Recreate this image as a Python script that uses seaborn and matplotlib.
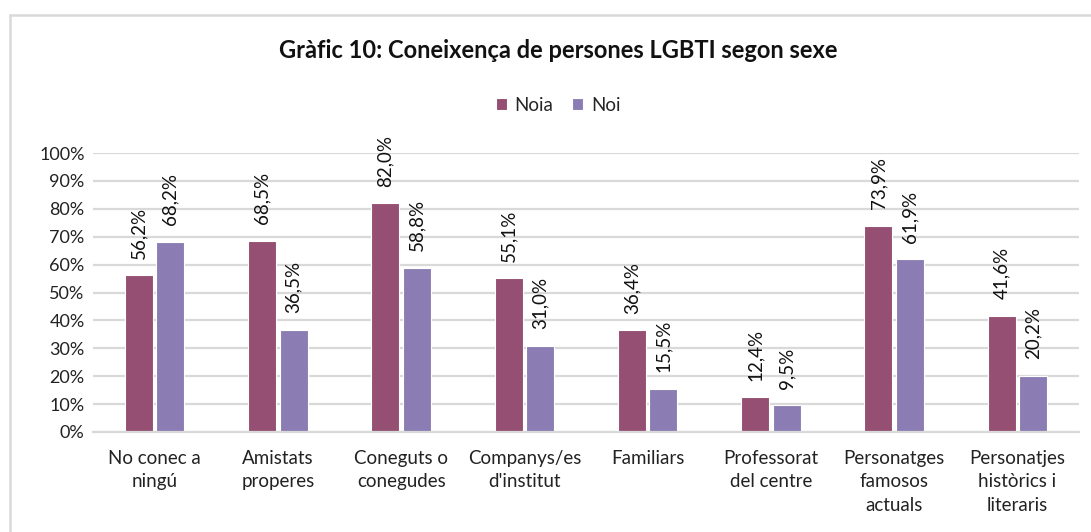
import pandas as pd
import numpy as np
import seaborn as sns
import matplotlib.pyplot as plt
from matplotlib.lines import Line2D

# dades del gràfic
categories = ['No conec a\nningú', 'Amistats\nproperes', 'Coneguts o\nconegudes', "Companys/es\nd'institut",
              'Familiars', 'Professorat\ndel centre', 'Personatges\nfamosos\nactuals', 'Personatjes\nhistòrics i\nliteraris']
noia = [56.2, 68.5, 82.0, 55.1, 36.4, 12.4, 73.9, 41.6]
noi = [68.2, 36.5, 58.8, 31.0, 15.5, 9.5, 61.9, 20.2]
grups = ['Noia', 'Noi']
colors = {'Noia': '#954F72', 'Noi': '#8B7DB3'}

df = pd.DataFrame({
    'categoria': categories * 2,
    'sexe': ['Noia'] * len(categories) + ['Noi'] * len(categories),
    'valor': noia + noi,
})

sns.set_style('white')
plt.rcParams['font.family'] = ['Lato', 'DejaVu Sans']

fig = plt.figure(figsize=(10.91, 5.32), dpi=100)
ax = fig.add_axes([93 / 1091, 100 / 532, 986 / 1091, 279 / 532])

sns.barplot(data=df, x='categoria', y='valor', hue='sexe', hue_order=grups, palette=colors,
            saturation=1, width=0.51, gap=0.11, edgecolor='white', linewidth=0.8, ax=ax, legend=True)

for cont in ax.containers:
    ax.bar_label(cont, labels=[f'{v:.1f}%'.replace('.', ',') for v in cont.datavalues],
                 rotation=90, padding=12, fontsize=13.5, color='#111111')

ax.set_ylim(0, 100)
ax.set_yticks(np.arange(0, 101, 10))
ax.set_yticklabels([f'{t}%' for t in range(0, 101, 10)], fontsize=13, color='#222222')
ax.tick_params(axis='x', labelsize=13.5, labelcolor='#222222', length=0, pad=13)
for lab in ax.get_xticklabels():
    lab.set_linespacing(1.45)
ax.tick_params(axis='y', length=0, pad=6)
ax.set_xlabel('')
ax.set_ylabel('')
ax.grid(axis='y', color='#D9D9D9', linewidth=1.6)
ax.set_axisbelow(True)
for s in ['top', 'right', 'left']:
    ax.spines[s].set_visible(False)
ax.spines['bottom'].set_color('#D9D9D9')
ax.spines['bottom'].set_linewidth(1.6)

leg = ax.legend(loc='center', bbox_to_anchor=(558 / 1091, 1 - 105 / 532), bbox_transform=fig.transFigure,
                ncol=2, frameon=False, fontsize=13.5, handlelength=0.6, handleheight=0.6,
                handletextpad=0.4, columnspacing=1.0)

fig.text(558 / 1091, 1 - 50 / 532, 'Gràfic 10: Coneixença de persones LGBTI segon sexe',
         ha='center', va='center', fontsize=17, fontweight='bold', color='#111111')

# marc del gràfic
fig.add_artist(Line2D([10 / 1091, 1.0], [1 - 15 / 532, 1 - 15 / 532], color='#D9D9D9', linewidth=1.8))
fig.add_artist(Line2D([10 / 1091, 10 / 1091], [0.0, 1 - 15 / 532], color='#D9D9D9', linewidth=1.8))

fig.savefig('out.png', dpi=100)
